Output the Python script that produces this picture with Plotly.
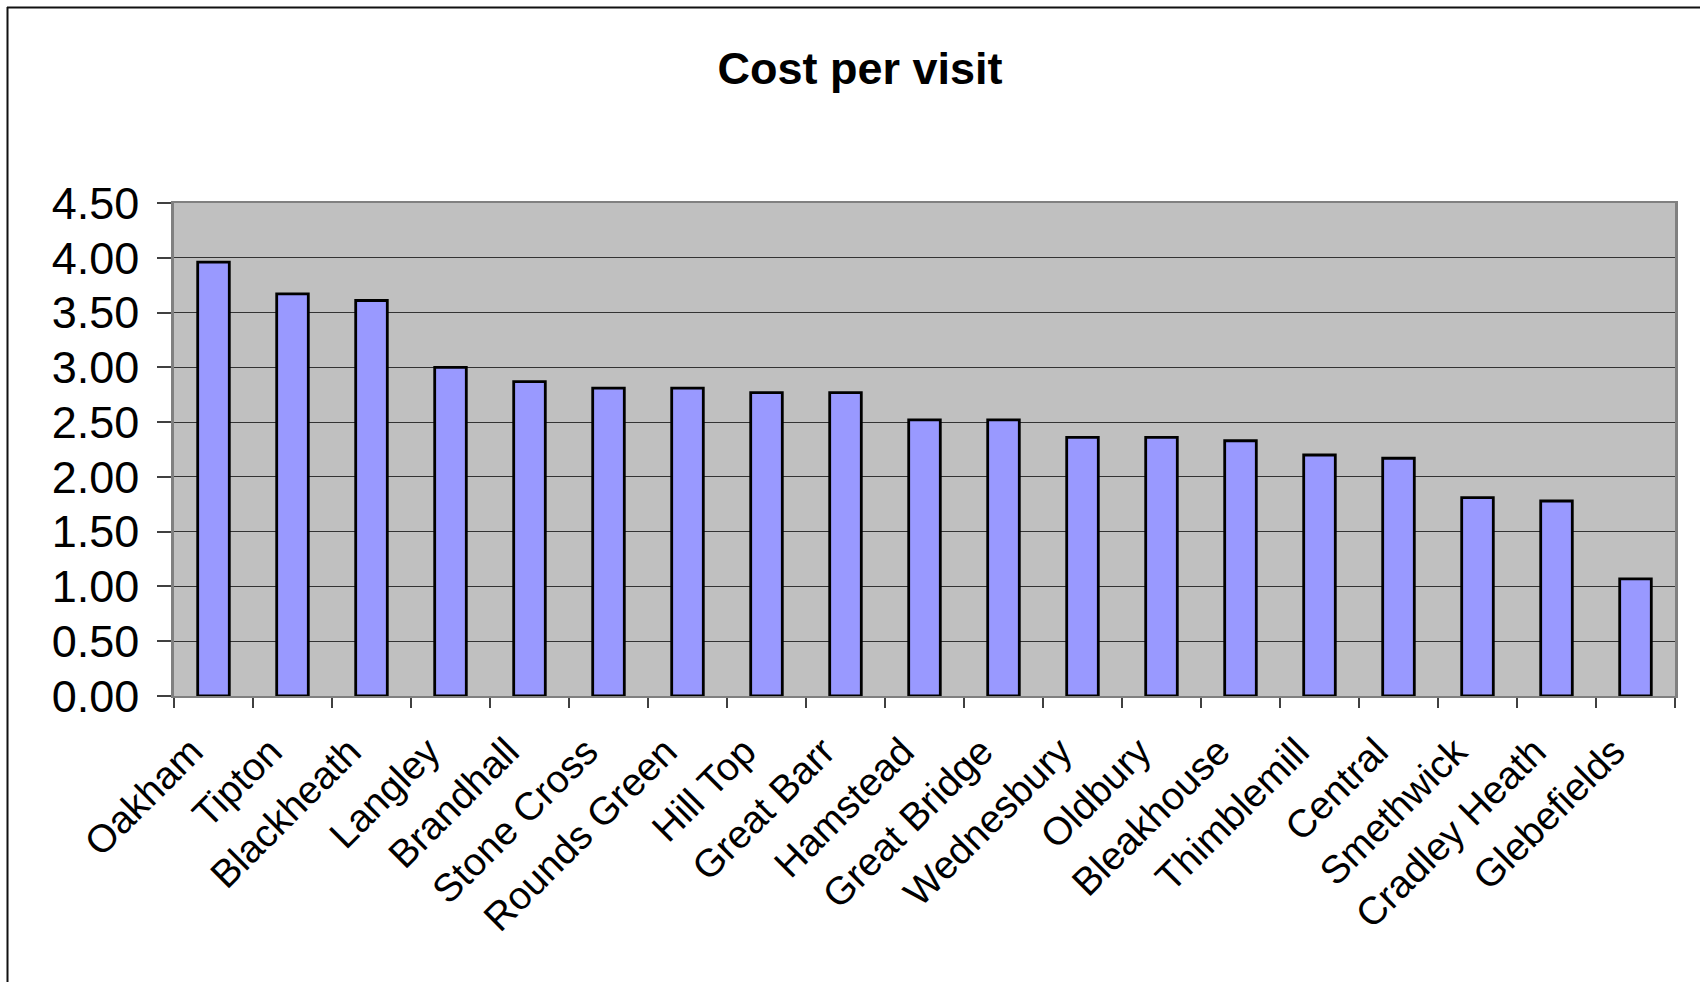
import plotly.graph_objects as go

# Cost per visit by site
sites = [
    "Oakham", "Tipton", "Blackheath", "Langley", "Brandhall", "Stone Cross",
    "Rounds Green", "Hill Top", "Great Barr", "Hamstead", "Great Bridge",
    "Wednesbury", "Oldbury", "Bleakhouse", "Thimblemill", "Central",
    "Smethwick", "Cradley Heath", "Glebefields",
]
cost_per_visit = [
    3.96, 3.67, 3.61, 3.00, 2.87, 2.81,
    2.81, 2.77, 2.77, 2.52, 2.52,
    2.36, 2.36, 2.33, 2.20, 2.17,
    1.81, 1.78, 1.07,
]
y_ticks = [0.0, 0.5, 1.0, 1.5, 2.0, 2.5, 3.0, 3.5, 4.0, 4.5]

W, H = 1700, 982
M_L, M_R, M_T, M_B = 174, 25, 203, 286
FONT = "Liberation Sans, Arial, sans-serif"

fig = go.Figure(
    go.Bar(
        x=sites,
        y=cost_per_visit,
        marker=dict(color="#9999FF", line=dict(color="#000000", width=2.8)),
        width=0.4,
        hoverinfo="x+y",
    )
)

# outer chart-area frame (top and left edges)
plot_w = W - M_L - M_R
plot_h = H - M_T - M_B
def px_x(p):
    return (p - M_L) / plot_w
def px_y(p):
    return (H - M_B - p) / plot_h

frame = [
    dict(type="line", xref="paper", yref="paper",
         x0=px_x(7), x1=px_x(W + 5), y0=px_y(7.5), y1=px_y(7.5),
         line=dict(color="#111111", width=2)),
    dict(type="line", xref="paper", yref="paper",
         x0=px_x(7.5), x1=px_x(7.5), y0=px_y(7), y1=px_y(H + 5),
         line=dict(color="#111111", width=2)),
]

fig.update_layout(
    width=W,
    height=H,
    margin=dict(l=M_L, r=M_R, t=M_T, b=M_B, pad=0),
    paper_bgcolor="#FFFFFF",
    plot_bgcolor="#C0C0C0",
    showlegend=False,
    shapes=frame,
    title=dict(
        text="Cost per visit",
        font=dict(family=FONT, size=45, color="#000000", weight="bold"),
        x=860 / W,
        xref="container",
        xanchor="center",
        y=1 - 68 / H,
        yref="container",
        yanchor="middle",
    ),
    xaxis=dict(
        type="category",
        tickson="boundaries",
        ticks="outside",
        ticklen=10,
        tickwidth=1.5,
        tickcolor="#404040",
        tickangle=-45,
        tickfont=dict(family=FONT, size=39, color="#000000"),
        showline=True,
        linecolor="#808080",
        linewidth=2,
        mirror=True,
        showgrid=False,
        ticklabelstandoff=15,
        ticklabelshift=-22,
    ),
    yaxis=dict(
        range=[0, 4.5],
        tickvals=y_ticks,
        tickformat=".2f",
        ticks="outside",
        ticklen=14,
        tickwidth=1.5,
        tickcolor="#404040",
        tickfont=dict(family=FONT, size=45, color="#000000"),
        showline=True,
        linecolor="#808080",
        linewidth=2.5,
        mirror=True,
        showgrid=True,
        gridcolor="#333333",
        gridwidth=1.2,
        zeroline=False,
        ticklabelstandoff=9,
    ),
    bargap=0.6,
)

fig.write_html("out.html")
